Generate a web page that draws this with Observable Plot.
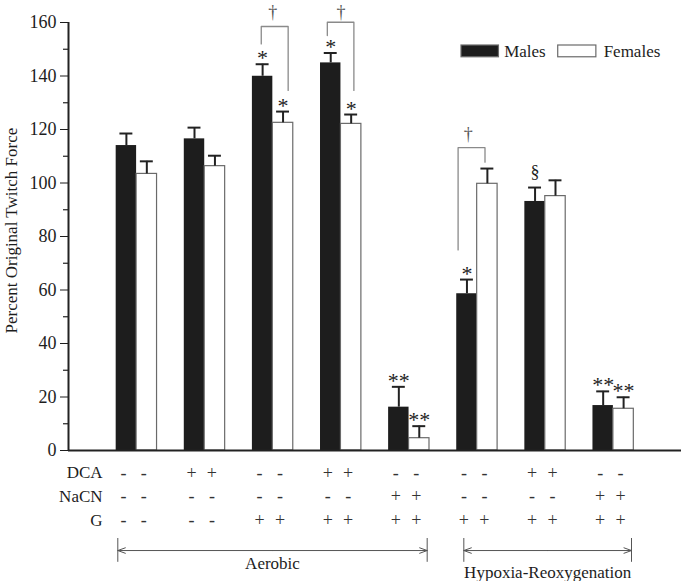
<!DOCTYPE html>
<html><head><meta charset="utf-8">
<script src="https://cdn.jsdelivr.net/npm/d3@7"></script>
<script src="https://cdn.jsdelivr.net/npm/@observablehq/plot@0.6"></script>
<style>body{margin:0;background:#fff}</style>
</head><body><div id="chart"></div>
<script>
// ---- data ----
const groupIdx = [0, 1, 2, 3, 4, 5, 6, 7];
const males     = [114.0, 116.5, 139.9, 144.9, 16.2, 58.6, 93.1, 16.8];
const maleErr   = [4.5, 4.2, 4.5, 3.7, 7.6, 5.3, 5.2, 5.3];
const females   = [103.4, 106.3, 122.5, 122.1, 4.6, 99.7, 95.1, 15.6];
const femaleErr = [4.7, 3.9, 4.2, 3.5, 4.5, 5.7, 5.9, 4.3];

const yTicks = [0, 20, 40, 60, 80, 100, 120, 140, 160];
const yMinorTicks = [10, 30, 50, 70, 90, 110, 130, 150];

const rowLabels = ["DCA", "NaCN", "G"];
const dca  = ["-", "+", "-", "+", "-", "-", "+", "-"];
const nacn = ["-", "-", "-", "-", "+", "-", "-", "+"];
const gluc = ["-", "-", "+", "+", "+", "+", "+", "+"];

// significance symbols
const starGroup  = [2, 2, 3, 3, 4, 4, 5, 6, 7, 7];
const starSex    = ["Males", "Females", "Males", "Females", "Males", "Females", "Males", "Males", "Males", "Females"];
const starSymbol = ["*", "*", "*", "*", "**", "**", "*", "§", "**", "**"];

// brackets (†) between sexes
const bracketGroup = [2, 3, 5];
const bracketXL    = [1.83, 2.80, 4.72];
const bracketXR    = [2.225, 3.19, 5.115];
const bracketTop   = [158.5, 160.1, 113.2];
const bracketLeft  = [152.0, 155.1, 75.0];
const bracketRight = [134.6, 134.6, 107.8];
const daggerX      = [2.0, 3.0, 4.87];
const daggerY      = [164.0, 164.0, 118.1];

// condition spans
const spanLabels = ["Aerobic", "Hypoxia-Reoxygenation"];
const spanStart  = [-0.276, 4.804];
const spanEnd    = [4.266, 7.266];

const legendLabels = ["Males", "Females"];

// ---- build tables ----
const BW = 0.3;
const bars = groupIdx.flatMap(i => [
  {i, sex: "Males", v: males[i], e: males[i] + maleErr[i], x1: i - BW, x2: i, c: i - BW / 2},
  {i, sex: "Females", v: females[i], e: females[i] + femaleErr[i], x1: i, x2: i + BW, c: i + BW / 2}
]);
const barOf = (g, s) => bars.find(b => b.i === g && b.sex === s);
const stars = starGroup.map((g, k) => ({...barOf(g, starSex[k]), sym: starSymbol[k]}));
const brackets = bracketGroup.flatMap((g, k) => [
  {k, x: bracketXL[k], y: bracketLeft[k]},
  {k, x: bracketXL[k], y: bracketTop[k]},
  {k, x: bracketXR[k], y: bracketTop[k]},
  {k, x: bracketXR[k], y: bracketRight[k]}
]);
const daggers = daggerX.map((x, k) => ({x, y: daggerY[k]}));
const rowVals = [dca, nacn, gluc];
const rowY = [-8.4, -17.1, -26.1];
const signs = rowVals.flatMap((row, r) => row.flatMap((s, i) => [
  {x: i - BW / 2, y: rowY[r], s}, {x: i + BW / 2, y: rowY[r], s}
]));
const rowText = rowLabels.map((t, r) => ({t, y: rowY[r]}));
const spans = spanLabels.map((t, k) => ({t, a: spanStart[k], b: spanEnd[k], m: (spanStart[k] + spanEnd[k]) / 2, ty: [-42.4, -45.5][k]}));
const legend = [
  {t: legendLabels[0], x1: 4.77, x2: 5.32, tx: 5.396, fill: "#1d1d1d"},
  {t: legendLabels[1], x1: 6.19, x2: 6.75, tx: 6.857, fill: "white"}
];

const font = "'Liberation Serif', 'Times New Roman', serif";
const dark = "#1d1d1d";
const capHalf = 0.095;
const minorLen = 5 / 68.11;
const arrowY = -37.4;

const chart = Plot.plot({
  width: 681, height: 581,
  marginLeft: 68, marginRight: 0, marginTop: 22, marginBottom: 131,
  x: {type: "linear", domain: [-1, 8], axis: null},
  y: {domain: [0, 160], ticks: yTicks, tickSize: 8, tickPadding: 4, label: null, tickFormat: d => String(d)},
  style: {fontFamily: font, fontSize: "18px", background: "white", color: dark, overflow: "visible"},
  marks: [
    // bars
    Plot.rectY(bars.filter(d => d.sex === "Males"), {x1: "x1", x2: "x2", y: "v", fill: dark}),
    Plot.rectY(bars.filter(d => d.sex === "Females"), {x1: "x1", x2: "x2", y: "v", fill: "white", stroke: "#6a6a6a", strokeWidth: 1.2}),
    // error bars
    Plot.ruleX(bars, {x: "c", y1: "v", y2: "e", stroke: "#222", strokeWidth: 2}),
    Plot.ruleY(bars, {y: "e", x1: d => d.c - capHalf, x2: d => d.c + capHalf, stroke: "#222", strokeWidth: 2}),
    // axes
    Plot.ruleY(yMinorTicks, {y: d => d, x1: -1 - minorLen, x2: -1, stroke: "#222", strokeWidth: 1.2}),
    Plot.ruleX([-1], {stroke: "#222", strokeWidth: 2}),
    Plot.ruleY([0], {stroke: "#222", strokeWidth: 2}),
    Plot.text(["Percent Original Twitch Force"], {frameAnchor: "left", y: 82.2, dx: -57, rotate: -90, textAnchor: "middle", fontSize: 17, fill: dark}),
    // brackets and symbols
    Plot.line(brackets, {x: "x", y: "y", z: "k", stroke: "#8a8a8a", strokeWidth: 1.3}),
    Plot.text(daggers, {x: "x", y: "y", text: () => "†", fontSize: 18, fill: "#555"}),
    Plot.text(stars.filter(d => d.sym !== "§"), {x: "c", y: "e", text: "sym", fontSize: 22, dy: -6, fill: dark}),
    Plot.text(stars.filter(d => d.sym === "§"), {x: "c", y: "e", text: "sym", fontSize: 18, dy: -15, fill: dark}),
    // legend
    Plot.rect(legend, {x1: "x1", x2: "x2", y1: 147.0, y2: 151.4, fill: "fill", stroke: "#6a6a6a", strokeWidth: 1.2}),
    Plot.text(legend, {x: "tx", y: 149.2, text: "t", textAnchor: "start", fontSize: 17, fill: dark}),
    // condition rows
    Plot.text(rowText, {x: -0.5, y: "y", text: "t", textAnchor: "end", fontSize: 17, fill: dark}),
    Plot.text(signs, {x: "x", y: "y", text: "s", dx: -3, fontSize: 18, fill: "#333"}),
    // spans
    Plot.arrow(spans, {x1: "m", x2: "a", y1: arrowY, y2: arrowY, headLength: 12, headAngle: 40, stroke: "#555", strokeWidth: 1}),
    Plot.arrow(spans, {x1: "m", x2: "b", y1: arrowY, y2: arrowY, headLength: 12, headAngle: 40, stroke: "#555", strokeWidth: 1}),
    Plot.ruleX(spans.flatMap(s => [s.a, s.b]), {x: d => d, y1: -32.9, y2: -41.8, stroke: "#555", strokeWidth: 1}),
    Plot.text(spans, {x: "m", y: "ty", text: "t", fontSize: 17, fill: dark})
  ]
});
document.getElementById("chart").appendChild(chart);
</script></body></html>
